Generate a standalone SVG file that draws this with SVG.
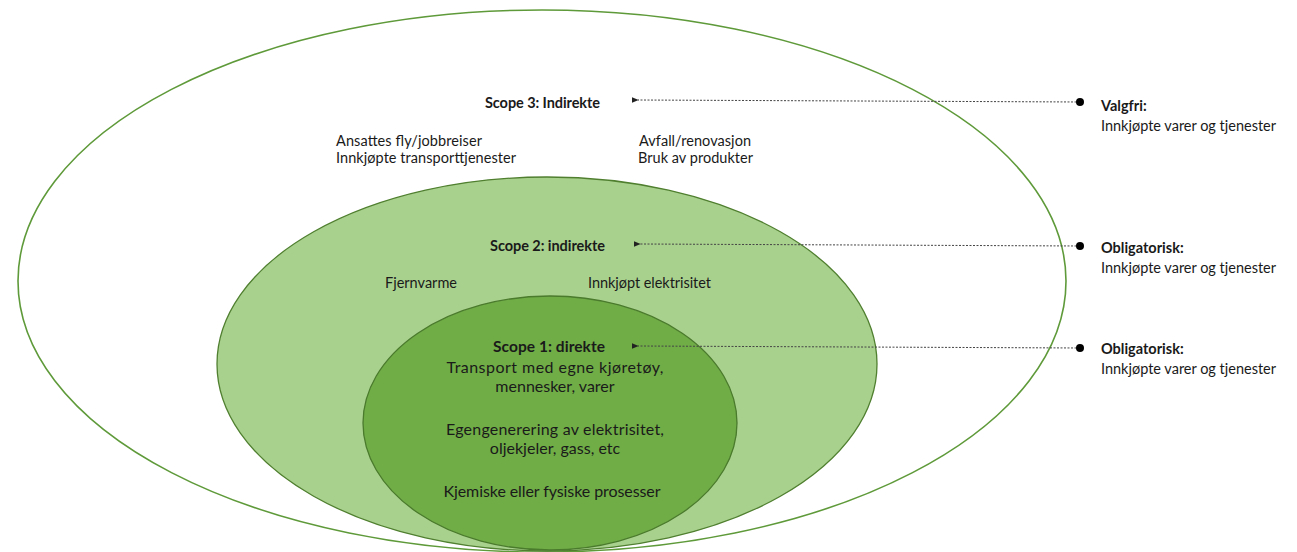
<svg xmlns="http://www.w3.org/2000/svg" width="1297" height="552" viewBox="0 0 1297 552">
<style>
.t{font-family:Lato,"Open Sans","Liberation Sans",sans-serif;font-size:14.5px;fill:#1a1a1a}
.b{font-weight:bold}
.c{text-anchor:middle;font-size:16px}
.conn{stroke:#444;stroke-width:1;stroke-dasharray:2 1.5;fill:none}
</style>
<defs>
<marker id="ah" viewBox="0 0 10 10" refX="1" refY="5" markerWidth="7" markerHeight="7" orient="auto"><path d="M10,1 L0,5 L10,9 Z" fill="#222"/></marker>
<marker id="dot" viewBox="0 0 10 10" refX="5" refY="5" markerWidth="8" markerHeight="8"><circle cx="5" cy="5" r="5" fill="#000"/></marker>
</defs>
<rect width="1297" height="552" fill="#fff"/>
<g id="scope3">
<ellipse cx="542" cy="281" rx="524" ry="271" fill="#fff" stroke="#5f9a3a" stroke-width="1.6"/>
<text class="t b" x="485" y="108" textLength="115">Scope 3: Indirekte</text>
<text class="t" x="336" y="146" textLength="146">Ansattes fly/jobbreiser</text>
<text class="t" x="336" y="163" textLength="180">Innkjøpte transporttjenester</text>
<text class="t" x="639" y="146" textLength="112">Avfall/renovasjon</text>
<text class="t" x="638" y="163" textLength="115">Bruk av produkter</text>
</g>
<g id="scope2">
<ellipse cx="547" cy="364" rx="330" ry="187" fill="#a9d18e" stroke="#4f7f2f" stroke-width="1.3"/>
<text class="t b" x="490" y="251" textLength="115">Scope 2: indirekte</text>
<text class="t" x="385" y="288" textLength="72">Fjernvarme</text>
<text class="t" x="588" y="288" textLength="123">Innkjøpt elektrisitet</text>
</g>
<g id="scope1">
<ellipse cx="550" cy="423" rx="187" ry="127" fill="#70ad47" stroke="#4a7a2c" stroke-width="1.3"/>
<text class="t b" x="493" y="352" textLength="112" style="font-size:15.5px">Scope 1: direkte</text>
<text class="t c" x="555" y="373" textLength="217">Transport med egne kjøretøy,</text>
<text class="t c" x="555" y="392">mennesker, varer</text>
<text class="t c" x="555" y="435" textLength="218">Egengenerering av elektrisitet,</text>
<text class="t c" x="555" y="454">oljekjeler, gass, etc</text>
<text class="t c" x="552" y="497" textLength="217">Kjemiske eller fysiske prosesser</text>
</g>
<g id="connectors">
<line class="conn" x1="1080" y1="102" x2="638" y2="100" marker-start="url(#dot)" marker-end="url(#ah)"/>
<line class="conn" x1="1080" y1="246" x2="640" y2="244" marker-start="url(#dot)" marker-end="url(#ah)"/>
<line class="conn" x1="1080" y1="348" x2="638" y2="346" marker-start="url(#dot)" marker-end="url(#ah)"/>
</g>
<g id="labels">
<text class="t b" x="1101" y="111">Valgfri:</text>
<text class="t" x="1101" y="131" textLength="175">Innkjøpte varer og tjenester</text>
<text class="t b" x="1101" y="253">Obligatorisk:</text>
<text class="t" x="1101" y="273" textLength="175">Innkjøpte varer og tjenester</text>
<text class="t b" x="1101" y="354">Obligatorisk:</text>
<text class="t" x="1101" y="374" textLength="175">Innkjøpte varer og tjenester</text>
</g>
</svg>
